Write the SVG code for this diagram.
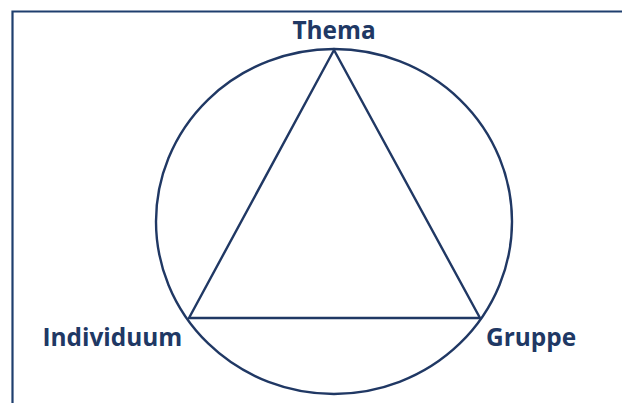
<svg xmlns="http://www.w3.org/2000/svg" width="622" height="403" viewBox="0 0 622 403">
<style>
.ln{fill:none;stroke:#203864;stroke-width:2.4;stroke-linejoin:miter}
.fr{fill:none;stroke:#1f3f6e;stroke-width:2.2}
.lb{font-family:"Open Sans","Noto Sans",sans-serif;font-weight:bold;font-size:24.4px;fill:#203864}
</style>
<rect width="622" height="403" fill="#ffffff"/>
<path class="fr" d="M12.5,403 V11.5 H622"/>
<g id="connectors">
<ellipse class="ln" cx="334" cy="221.5" rx="178" ry="172.5"/>
<polygon class="ln" points="334,50 189,318 480,318"/>
</g>
<g id="thema"><text class="lb" x="334" y="38.5" text-anchor="middle">Thema</text></g>
<g id="individuum"><text class="lb" x="42.5" y="346">Individuum</text></g>
<g id="gruppe"><text class="lb" x="486" y="346">Gruppe</text></g>
</svg>
